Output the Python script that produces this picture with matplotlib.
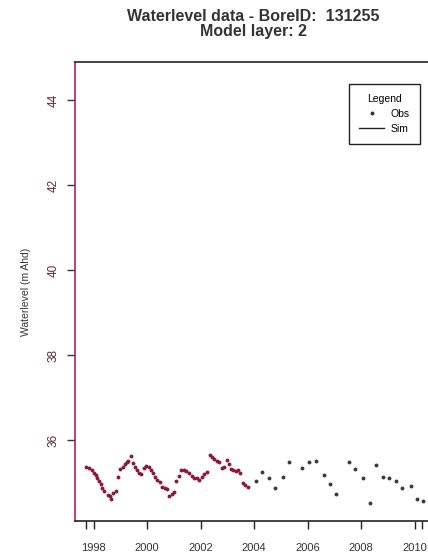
import matplotlib.pyplot as plt
from matplotlib.lines import Line2D

# Observed water levels, monthly logger period (decimal year, m AHD)
obs_dense_year = [
    1997.73, 1997.83, 1997.92, 1998.00, 1998.08, 1998.14, 1998.20, 1998.26,
    1998.32, 1998.37, 1998.52, 1998.60, 1998.65, 1998.73, 1998.82, 1998.90,
    1999.00, 1999.08, 1999.17, 1999.23, 1999.30, 1999.38, 1999.48, 1999.55,
    1999.63, 1999.70, 1999.76, 1999.88, 1999.96, 2000.05, 2000.14, 2000.21,
    2000.30, 2000.37, 2000.48, 2000.56, 2000.65, 2000.74, 2000.82, 2000.92,
    2001.00, 2001.07, 2001.18, 2001.26, 2001.36, 2001.46, 2001.55, 2001.67,
    2001.76, 2001.86, 2001.95, 2002.04, 2002.12, 2002.22, 2002.35, 2002.42,
    2002.51, 2002.60, 2002.70, 2002.79, 2002.87, 2002.97, 2003.05, 2003.13,
    2003.22, 2003.32, 2003.41, 2003.48, 2003.58, 2003.67, 2003.78,
]
obs_dense_level = [
    35.37, 35.34, 35.30, 35.24, 35.18, 35.11, 35.04, 34.96,
    34.88, 34.80, 34.71, 34.68, 34.61, 34.75, 34.81, 35.14,
    35.32, 35.38, 35.43, 35.48, 35.52, 35.63, 35.46, 35.37,
    35.30, 35.24, 35.21, 35.35, 35.40, 35.37, 35.30, 35.22,
    35.13, 35.07, 35.02, 34.91, 34.88, 34.85, 34.68, 34.73,
    34.78, 35.04, 35.16, 35.29, 35.30, 35.27, 35.24, 35.15,
    35.11, 35.10, 35.07, 35.14, 35.20, 35.25, 35.66, 35.61,
    35.55, 35.51, 35.48, 35.35, 35.38, 35.53, 35.43, 35.33,
    35.30, 35.27, 35.29, 35.22, 34.99, 34.94, 34.89,
]

# Later manual readings
obs_sparse_year = [
    2004.07, 2004.31, 2004.56, 2004.79, 2005.08, 2005.32, 2005.80, 2006.05,
    2006.30, 2006.60, 2006.84, 2007.08, 2007.55, 2007.79, 2008.09, 2008.34,
    2008.57, 2008.81, 2009.06, 2009.30, 2009.54, 2009.85, 2010.10, 2010.32,
]
obs_sparse_level = [
    35.04, 35.26, 35.11, 34.88, 35.14, 35.49, 35.34, 35.49,
    35.51, 35.18, 34.96, 34.73, 35.49, 35.33, 35.11, 34.53,
    35.41, 35.14, 35.11, 35.04, 34.88, 34.92, 34.62, 34.57,
]

year_ticks = [1998, 2000, 2002, 2004, 2006, 2008, 2010]
extra_ticks = [1997.73, 2010.28]   # first / last record
level_ticks = [36, 38, 40, 42, 44]

plt.rcParams['font.family'] = ['Liberation Sans', 'DejaVu Sans']

fig = plt.figure(figsize=(4.28, 5.55), dpi=100)
ax = fig.add_axes([0.1752, 0.0613, 0.834, 0.827])

ax.plot(obs_dense_year, obs_dense_level, 'o', ms=2.8, color='#8b1a3a', mew=0)
ax.plot(obs_sparse_year, obs_sparse_level, 'o', ms=2.8, color='#3a3a3a', mew=0)

ax.set_xlim(1997.3, 2010.65)
ax.set_ylim(34.1, 44.9)

ax.set_xticks(year_ticks + extra_ticks)
ax.set_xticklabels([str(y) for y in year_ticks] + ['', ''], fontsize=8, color='#333333')
ax.set_yticks(level_ticks)
ax.set_yticklabels([str(v) for v in level_ticks], fontsize=8.5, color='#5a2a3a',
                   rotation=90, va='center')
ax.tick_params(axis='x', length=6, width=1, pad=10, color='#222222')
ax.tick_params(axis='y', length=6, width=1, pad=5, color='#333333')

ax.spines['left'].set_color('#c2185b')
ax.spines['top'].set_color('#222222')
ax.spines['bottom'].set_color('#222222')
for s in ax.spines.values():
    s.set_linewidth(1.2)

ax.set_ylabel('Waterlevel (m Ahd)', fontsize=7.5, labelpad=12, color='#333333')
ax.set_title('Waterlevel data - BoreID:  131255\nModel layer: 2',
             fontsize=11.5, fontweight='bold', color='#333333', pad=19,
             linespacing=0.95)

handles = [Line2D([], [], marker='o', ms=1.8, ls='none', color='#333333'),
           Line2D([], [], color='#222222', lw=1)]
leg = ax.legend(handles, ['Obs', 'Sim'], title='Legend', fontsize=7.5,
                title_fontsize=7.5, loc='upper right',
                bbox_to_anchor=(0.966, 0.952), borderaxespad=0,
                fancybox=False, edgecolor='#222222', framealpha=1,
                handlelength=2.4, handletextpad=0.6, borderpad=1.0,
                labelspacing=0.45)
leg.get_frame().set_linewidth(1)

fig.savefig('out.png', dpi=100)
